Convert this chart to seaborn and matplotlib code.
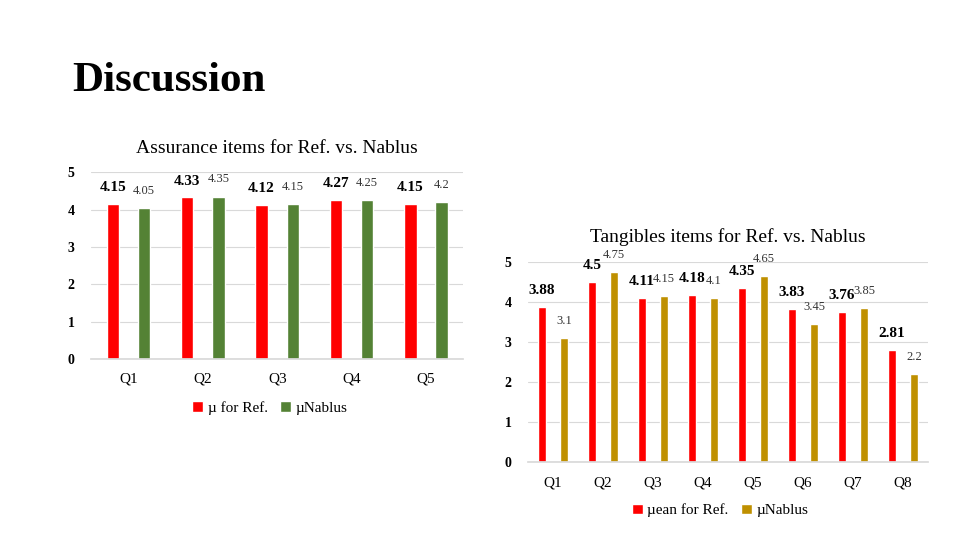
import pandas as pd
import matplotlib
matplotlib.use("Agg")
import matplotlib.pyplot as plt
import seaborn as sns

# Assurance chart data
assur_q = ["Q1", "Q2", "Q3", "Q4", "Q5"]
assur_ref = [4.15, 4.33, 4.12, 4.27, 4.15]
assur_nablus = [4.05, 4.35, 4.15, 4.25, 4.2]

# Tangibles chart data
tang_q = ["Q1", "Q2", "Q3", "Q4", "Q5", "Q6", "Q7", "Q8"]
tang_ref = [3.88, 4.5, 4.11, 4.18, 4.35, 3.83, 3.76, 2.81]
tang_nablus = [3.1, 4.75, 4.15, 4.1, 4.65, 3.45, 3.85, 2.2]

sns.set_theme(style="white")
plt.rcParams["font.family"] = ["Liberation Serif", "DejaVu Sans"]
plt.rcParams["text.color"] = "black"
plt.rcParams["xtick.color"] = "black"
plt.rcParams["ytick.color"] = "black"

fig = plt.figure(figsize=(9.6, 5.4), dpi=100)
fig.text(0.075, 0.85, "Discussion", fontsize=31, fontweight="bold", va="center", ha="left")


def draw(ax, cats, ref, nab, ref_name, nab_name, c2, title, width, leg_y):
    df = pd.DataFrame({
        "q": cats * 2,
        "val": ref + nab,
        "series": [ref_name] * len(cats) + [nab_name] * len(cats),
    })
    sns.barplot(data=df, x="q", y="val", hue="series", ax=ax,
                palette=["#ff0000", c2], width=width, gap=0.6,
                saturation=1, errorbar=None)
    ax.set_ylim(0, 5)
    ax.set_yticks(range(6))
    ax.yaxis.grid(True, color="#d9d9d9", lw=0.8)
    ax.set_axisbelow(True)
    for s in ["top", "right", "left"]:
        ax.spines[s].set_visible(False)
    ax.spines["bottom"].set_color("#d9d9d9")
    ax.tick_params(length=0)
    ax.tick_params(axis="y", labelsize=10, pad=12)
    ax.tick_params(axis="x", labelsize=11, pad=10)
    for t in ax.get_yticklabels():
        t.set_fontweight("bold")
    ax.set_xlabel("")
    ax.set_ylabel("")
    ax.set_title(title, fontsize=14, pad=14)
    conts = ax.containers
    ax.bar_label(conts[0], labels=[f"{v:g}" for v in ref], padding=7,
                 fontsize=11, fontweight="bold")
    ax.bar_label(conts[1], labels=[f"{v:g}" for v in nab], padding=8,
                 fontsize=9, color="#333333")
    ax.legend(loc="center", bbox_to_anchor=(0.48, leg_y), ncol=2, frameon=False,
              fontsize=11, handlelength=0.7, handleheight=0.7, columnspacing=0.8,
              handletextpad=0.3)


ax1 = fig.add_axes([0.095, 0.335, 0.3875, 0.346])
draw(ax1, assur_q, assur_ref, assur_nablus, "µ for Ref.", "µNablus", "#548235",
     "Assurance items for Ref. vs. Nablus", 0.84, -0.26)

ax2 = fig.add_axes([0.55, 0.144, 0.4167, 0.371])
draw(ax2, tang_q, tang_ref, tang_nablus, "µean for Ref.", "µNablus", "#bf9000",
     "Tangibles items for Ref. vs. Nablus", 0.88, -0.24)

fig.savefig("out.png", dpi=100)
